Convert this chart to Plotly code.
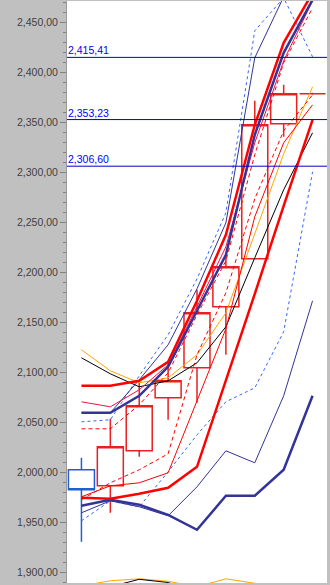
import plotly.graph_objects as go

# session index (one candle per slot)
idx = list(range(9))

# OHLC prices
open_ = [2003, 1987, 2022, 2075, 2105, 2166, 2214, 2349, 2379]
high = [2015, 2054, 2090, 2110, 2183, 2220, 2372, 2388, 2380]
low = [1931, 1960, 2016, 2053, 2070, 2118, 2214, 2336, 2378]
close = [1983, 2026, 2067, 2092, 2160, 2206, 2348, 2379, 2379]

# overlay indicator lines
red_thick_up = [2087, 2087, 2092, 2111, 2172, 2238, 2348, 2430, 2480]
navy_thick_up = [2060, 2060, 2077, 2106, 2162, 2218, 2338, 2420, 2473]
red_thin_up = [2071, 2066, 2083, 2108, 2166, 2226, 2330, 2412, 2472]
red_dash_up = [2044, 2044, 2068, 2100, 2158, 2212, 2318, 2410, 2465]
navy_thin_up = [2060, 2060, 2093, 2128, 2184, 2250, 2415, 2476, 2495]
blue_dash_up = [2051, 2053, 2097, 2138, 2194, 2260, 2442, 2475, 2416]
orange_avg = [2123, 2102, 2090, 2095, 2118, 2160, 2239, 2319, 2386]
black_avg = [2115, 2099, 2086, 2092, 2110, 2146, 2215, 2283, 2340]
red_dash_dn = [1973, 1990, 2003, 2019, 2118, 2180, 2274, 2342, 2378]
red_thin_dn = [1976, 1987, 1990, 2000, 2072, 2144, 2256, 2330, 2368]
red_thick_dn = [1975, 1974, 1979, 1985, 2006, 2092, 2179, 2267, 2353]
blue_dash_dn = [1952, 1972, 1966, 2001, 2038, 2071, 2085, 2141, 2301]
navy_thin_dn = [1960, 1972, 1966, 1957, 1986, 2022, 2010, 2077, 2172]
navy_thick_dn = [1967, 1973, 1968, 1958, 1943, 1977, 1977, 2003, 2077]
orange_low = [1887, 1892, 1894, 1891.5, 1886, 1894, 1889.5, 1878, 1865]
black_low = [1880, 1886, 1893.5, 1890.3, 1880, 1870, 1862, 1855, 1850]

# price levels
levels = [2415.41, 2353.23, 2306.60]

# y-axis ticks
tick_vals = list(range(1900, 2451, 50))


def fmt(v):
    return f"{v:,.2f}".replace(".", ",")


tick_text = [fmt(v) for v in tick_vals]
level_text = [fmt(v) for v in levels]

RED = "#ff0000"
NAVY = "#333399"
BLUE = "#3366ff"
CRIMSON = "#ee1144"

lines = [
    (orange_low, "#ffa500", 1, "solid"),
    (black_low, "#000000", 1, "solid"),
    (blue_dash_up, BLUE, 1, "3px,3px"),
    (blue_dash_dn, BLUE, 1, "3px,3px"),
    (navy_thin_up, NAVY, 1, "solid"),
    (navy_thin_dn, NAVY, 1, "solid"),
    (orange_avg, "#ffa500", 1, "solid"),
    (black_avg, "#000000", 1, "solid"),
    (red_dash_up, RED, 1, "4px,3px"),
    (red_dash_dn, RED, 1, "4px,3px"),
    (red_thin_up, CRIMSON, 1, "solid"),
    (red_thin_dn, RED, 1, "solid"),
    (navy_thick_up, NAVY, 2.5, "solid"),
    (navy_thick_dn, NAVY, 2.5, "solid"),
    (red_thick_up, RED, 2.5, "solid"),
    (red_thick_dn, RED, 2.5, "solid"),
]

fig = go.Figure()

fig.add_trace(go.Candlestick(
    x=idx, open=open_, high=high, low=low, close=close,
    increasing=dict(line=dict(color="#e82020", width=1.5), fillcolor="rgba(255,255,255,0)"),
    decreasing=dict(line=dict(color="#1f5fd0", width=1.5), fillcolor="rgba(255,255,255,0)"),
    whiskerwidth=0,
))

for ys, color, width, dash in lines:
    fig.add_trace(go.Scatter(
        x=idx, y=ys, mode="lines",
        line=dict(color=color, width=width, dash=dash),
        hoverinfo="skip",
    ))

for v, t in zip(levels, level_text):
    fig.add_shape(type="line", xref="paper", x0=0, x1=1, yref="y", y0=v, y1=v,
                  line=dict(color="#0000cc", width=1), layer="above")
    fig.add_annotation(xref="paper", x=0, yref="y", y=v, text=t, showarrow=False,
                       xanchor="left", yanchor="bottom", xshift=0, yshift=0,
                       borderpad=0,
                       font=dict(family="Liberation Sans", size=10.5, color="#0000ff"))

fig.update_layout(
    width=330, height=585,
    margin=dict(l=67, r=3, t=1, b=2),
    paper_bgcolor="#c0c0c0",
    plot_bgcolor="#ffffff",
    showlegend=False,
    boxgap=0.1,
    boxgroupgap=0,
    xaxis=dict(range=[-0.5, 8.5], visible=False, fixedrange=True,
               rangeslider=dict(visible=False)),
    yaxis=dict(
        range=[1889.8, 2471.8],
        tickmode="array", tickvals=tick_vals, ticktext=tick_text,
        ticks="outside", ticklen=6, tickcolor="#808080", tickwidth=1,
        showline=True, linecolor="#9a9a9a", linewidth=1,
        showgrid=False, zeroline=False, fixedrange=True,
        tickfont=dict(family="Liberation Sans", size=10.5, color="#404040"),
        minor=dict(tickmode="linear", tick0=1900, dtick=10, ticks="outside",
                   ticklen=3, tickcolor="#808080", showgrid=False),
    ),
)

fig.write_html("out.html")
